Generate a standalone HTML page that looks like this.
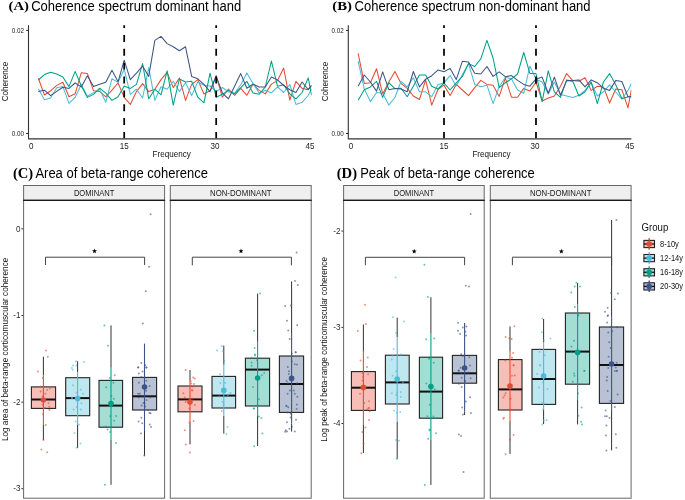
<!DOCTYPE html><html><head><meta charset="utf-8"><style>html,body{margin:0;padding:0;background:#fff;}svg{display:block;will-change:transform;}</style></head><body>
<svg width="685" height="500" viewBox="0 0 685 500">
<rect width="685" height="500" fill="#fff"/>
<text transform="translate(8.5,10.0) scale(1.1,1)" font-family="Liberation Serif, serif" font-weight="bold" font-size="13.4">(A)</text>
<text transform="translate(31.2,10.5) scale(1,1.06)" font-family="Liberation Sans, sans-serif" font-size="13">Coherence spectrum dominant hand</text>
<clipPath id="clipA"><rect x="28.5" y="25.2" width="283.1" height="113.39999999999999"/></clipPath>
<g clip-path="url(#clipA)" fill="none" stroke-width="1.05" stroke-linejoin="round">
<polyline stroke="#E64B35" points="38.33,78.2 44.47,95.0 50.60,90.8 56.73,85.4 62.87,82.2 69.00,96.8 75.13,93.8 81.26,72.8 87.40,73.4 93.53,90.8 99.66,91.4 105.80,96.8 111.93,90.2 118.06,83.0 124.20,97.4 130.33,104.4 136.46,91.6 142.59,83.6 148.73,91.6 154.86,89.2 160.99,79.6 167.13,72.4 173.26,87.6 179.39,78.0 185.52,100.4 191.66,84.4 197.79,79.6 203.92,94.0 210.06,90.8 216.19,75.6 222.32,97.2 228.46,89.0 234.59,95.3 240.72,88.3 246.86,95.3 252.99,84.1 259.12,90.4 265.25,93.9 271.39,84.1 277.52,80.6 283.65,68.0 289.79,100.2 295.92,81.3 302.05,88.3 308.19,89.7 311.60,86.2"/>
<polyline stroke="#4DBBD5" points="38.33,89.0 44.47,99.8 50.60,98.0 56.73,87.8 62.87,86.6 69.00,103.4 75.13,97.4 81.26,84.5 87.40,96.2 93.53,92.6 99.66,89.6 105.80,102.2 111.93,78.8 118.06,82.4 124.20,69.2 130.33,94.4 136.46,89.2 142.59,98.0 148.73,67.6 154.86,100.4 160.99,86.8 167.13,89.2 173.26,81.2 179.39,91.6 185.52,82.8 191.66,95.6 197.79,82.0 203.92,85.2 210.06,86.0 216.19,91.6 222.32,87.5 228.46,91.8 234.59,93.2 240.72,84.8 246.86,72.9 252.99,83.5 259.12,93.0 265.25,90.4 271.39,92.8 277.52,86.9 283.65,92.5 289.79,84.5 295.92,104.4 302.05,102.3 308.19,95.5 311.60,89.0"/>
<polyline stroke="#00A087" points="38.33,80.0 44.47,74.6 50.60,72.2 56.73,74.0 62.87,77.0 69.00,86.6 75.13,71.4 81.26,85.7 87.40,97.4 93.53,94.4 99.66,88.2 105.80,93.2 111.93,100.4 118.06,96.8 124.20,86.0 130.33,88.4 136.46,84.4 142.59,63.6 148.73,98.8 154.86,89.2 160.99,94.8 167.13,70.8 173.26,105.2 179.39,79.0 185.52,82.0 191.66,81.2 197.79,97.2 203.92,102.8 210.06,73.2 216.19,97.2 222.32,94.3 228.46,90.4 234.59,93.9 240.72,87.6 246.86,81.3 252.99,93.0 259.12,94.3 265.25,87.0 271.39,61.0 277.52,86.2 283.65,84.8 289.79,93.9 295.92,98.8 302.05,92.5 308.19,77.9 311.60,95.3"/>
<polyline stroke="#3C5488" points="38.33,91.4 44.47,90.2 50.60,95.6 56.73,91.4 62.87,87.2 69.00,88.4 75.13,83.0 81.26,86.9 87.40,75.8 93.53,86.6 99.66,84.2 105.80,82.2 111.93,70.2 118.06,81.8 124.20,60.2 130.33,79.6 136.46,73.2 142.59,66.0 148.73,76.4 154.86,40.4 160.99,36.4 167.13,43.6 173.26,46.8 179.39,50.8 185.52,46.8 191.66,76.4 197.79,78.8 203.92,84.4 210.06,91.6 216.19,76.4 222.32,92.8 228.46,98.8 234.59,86.2 240.72,73.6 246.86,88.3 252.99,84.1 259.12,86.9 265.25,87.0 271.39,77.0 277.52,79.9 283.65,85.5 289.79,89.7 295.92,92.5 302.05,82.0 308.19,89.5 311.60,85.0"/>
</g>
<line x1="124.20" y1="21.15" x2="124.20" y2="138.6" stroke="#000" stroke-width="1.75" stroke-dasharray="6.9 6.95" clip-path="url(#clipA)"/>
<line x1="216.19" y1="21.15" x2="216.19" y2="138.6" stroke="#000" stroke-width="1.75" stroke-dasharray="6.9 6.95" clip-path="url(#clipA)"/>
<path d="M28.5,25.2 V138.6" fill="none" stroke="#333" stroke-width="1.1"/>
<path d="M27.95,138.85 H311.6" fill="none" stroke="#333" stroke-width="1.1"/>
<line x1="26.2" y1="30.4" x2="28.5" y2="30.4" stroke="#222" stroke-width="1"/>
<text transform="translate(24.0,32.75) scale(1,1.12)" font-family="Liberation Sans, sans-serif" font-size="6.3" fill="#1a1a1a" text-anchor="end">0.02</text>
<line x1="26.2" y1="133.5" x2="28.5" y2="133.5" stroke="#222" stroke-width="1"/>
<text transform="translate(24.0,135.85) scale(1,1.12)" font-family="Liberation Sans, sans-serif" font-size="6.3" fill="#1a1a1a" text-anchor="end">0.00</text>
<text transform="translate(31.2,149) scale(1,1.14)" font-family="Liberation Sans, sans-serif" font-size="8.1" fill="#222" text-anchor="middle">0</text>
<text transform="translate(124.2,149) scale(1,1.14)" font-family="Liberation Sans, sans-serif" font-size="8.1" fill="#222" text-anchor="middle">15</text>
<text transform="translate(215.1,149) scale(1,1.14)" font-family="Liberation Sans, sans-serif" font-size="8.1" fill="#222" text-anchor="middle">30</text>
<text transform="translate(310.0,149) scale(1,1.14)" font-family="Liberation Sans, sans-serif" font-size="8.1" fill="#222" text-anchor="middle">45</text>
<text transform="translate(171.7,156.8) scale(1,1.1)" font-family="Liberation Sans, sans-serif" font-size="8.1" fill="#111" text-anchor="middle">Frequency</text>
<text transform="translate(8.3,81.5) rotate(-90) scale(1,1.1)" font-family="Liberation Sans, sans-serif" font-size="8.1" fill="#111" text-anchor="middle">Coherence</text>
<text transform="translate(332.3,10.0) scale(1.1,1)" font-family="Liberation Serif, serif" font-weight="bold" font-size="13.4">(B)</text>
<text transform="translate(354.6,10.5) scale(1,1.06)" font-family="Liberation Sans, sans-serif" font-size="13">Coherence spectrum non-dominant hand</text>
<clipPath id="clipB"><rect x="348.3" y="25.2" width="283.1000000000001" height="113.39999999999999"/></clipPath>
<g clip-path="url(#clipB)" fill="none" stroke-width="1.05" stroke-linejoin="round">
<polyline stroke="#E64B35" points="358.13,53.3 364.27,83.4 370.40,82.7 376.53,68.7 382.67,93.9 388.80,82.0 394.93,71.5 401.06,83.4 407.20,88.3 413.33,96.0 419.46,99.5 425.60,79.9 431.73,105.1 437.86,89.7 444.00,85.2 450.13,95.6 456.26,84.4 462.39,90.0 468.53,95.6 474.66,87.6 480.79,80.4 486.93,84.4 493.06,85.2 499.19,96.4 505.32,78.0 511.46,97.2 517.59,97.2 523.72,88.4 529.86,91.0 535.99,82.0 542.12,100.9 548.26,98.1 554.39,96.0 560.52,86.2 566.65,73.6 572.79,80.6 578.92,81.3 585.05,77.8 591.19,90.4 597.32,86.2 603.45,87.0 609.59,103.0 615.72,89.0 621.85,89.7 627.99,107.9 631.40,89.7"/>
<polyline stroke="#4DBBD5" points="358.13,61.0 364.27,89.0 370.40,101.6 376.53,92.5 382.67,93.2 388.80,105.1 394.93,97.5 401.06,81.3 407.20,86.9 413.33,77.8 419.46,91.8 425.60,91.8 431.73,96.7 437.86,84.8 444.00,82.8 450.13,75.6 456.26,86.0 462.39,74.8 468.53,63.6 474.66,84.4 480.79,86.8 486.93,85.2 493.06,103.6 499.19,86.8 505.32,77.2 511.46,78.8 517.59,90.0 523.72,93.2 529.86,66.0 535.99,79.2 542.12,82.0 548.26,93.9 554.39,82.0 560.52,94.6 566.65,96.0 572.79,97.4 578.92,95.3 585.05,90.4 591.19,82.7 597.32,96.0 603.45,91.8 609.59,84.8 615.72,92.0 621.85,99.0 627.99,90.4 631.40,83.4"/>
<polyline stroke="#00A087" points="358.13,100.2 364.27,89.7 370.40,86.9 376.53,81.3 382.67,97.4 388.80,82.7 394.93,88.6 401.06,88.3 407.20,96.7 413.33,86.2 419.46,75.0 425.60,75.0 431.73,86.2 437.86,89.0 444.00,83.1 450.13,90.0 456.26,82.8 462.39,76.4 468.53,63.6 474.66,66.5 480.79,58.8 486.93,40.4 493.06,58.0 499.19,87.6 505.32,82.8 511.46,78.8 517.59,74.0 523.72,52.4 529.86,73.4 535.99,73.6 542.12,101.6 548.26,70.8 554.39,91.8 560.52,97.4 566.65,79.9 572.79,81.3 578.92,96.0 585.05,91.8 591.19,82.0 597.32,103.7 603.45,82.0 609.59,73.6 615.72,84.8 621.85,98.8 627.99,96.7 631.40,96.7"/>
<polyline stroke="#3C5488" points="358.13,86.2 364.27,75.0 370.40,82.0 376.53,91.1 382.67,71.9 388.80,89.7 394.93,88.6 401.06,89.0 407.20,91.8 413.33,71.5 419.46,86.9 425.60,79.2 431.73,75.7 437.86,70.1 444.00,71.7 450.13,68.4 456.26,79.6 462.39,61.2 468.53,62.0 474.66,73.2 480.79,74.0 486.93,66.5 493.06,76.4 499.19,71.9 505.32,76.7 511.46,75.6 517.59,80.4 523.72,84.4 529.86,86.2 535.99,79.2 542.12,77.1 548.26,93.2 554.39,77.1 560.52,95.3 566.65,80.6 572.79,80.6 578.92,79.9 585.05,86.9 591.19,79.9 597.32,82.7 603.45,88.3 609.59,90.4 615.72,80.6 621.85,81.5 627.99,96.7 631.40,96.7"/>
</g>
<line x1="444.00" y1="21.15" x2="444.00" y2="138.6" stroke="#000" stroke-width="1.75" stroke-dasharray="6.9 6.95" clip-path="url(#clipB)"/>
<line x1="535.99" y1="21.15" x2="535.99" y2="138.6" stroke="#000" stroke-width="1.75" stroke-dasharray="6.9 6.95" clip-path="url(#clipB)"/>
<path d="M348.3,25.2 V138.6" fill="none" stroke="#333" stroke-width="1.1"/>
<path d="M347.75,138.85 H631.4000000000001" fill="none" stroke="#333" stroke-width="1.1"/>
<line x1="346.0" y1="30.4" x2="348.3" y2="30.4" stroke="#222" stroke-width="1"/>
<text transform="translate(343.8,32.75) scale(1,1.12)" font-family="Liberation Sans, sans-serif" font-size="6.3" fill="#1a1a1a" text-anchor="end">0.02</text>
<line x1="346.0" y1="133.5" x2="348.3" y2="133.5" stroke="#222" stroke-width="1"/>
<text transform="translate(343.8,135.85) scale(1,1.12)" font-family="Liberation Sans, sans-serif" font-size="6.3" fill="#1a1a1a" text-anchor="end">0.00</text>
<text transform="translate(351.0,149) scale(1,1.14)" font-family="Liberation Sans, sans-serif" font-size="8.1" fill="#222" text-anchor="middle">0</text>
<text transform="translate(444.0,149) scale(1,1.14)" font-family="Liberation Sans, sans-serif" font-size="8.1" fill="#222" text-anchor="middle">15</text>
<text transform="translate(534.9,149) scale(1,1.14)" font-family="Liberation Sans, sans-serif" font-size="8.1" fill="#222" text-anchor="middle">30</text>
<text transform="translate(629.8,149) scale(1,1.14)" font-family="Liberation Sans, sans-serif" font-size="8.1" fill="#222" text-anchor="middle">45</text>
<text transform="translate(491.5,156.8) scale(1,1.1)" font-family="Liberation Sans, sans-serif" font-size="8.1" fill="#111" text-anchor="middle">Frequency</text>
<text transform="translate(328.1,81.5) rotate(-90) scale(1,1.1)" font-family="Liberation Sans, sans-serif" font-size="8.1" fill="#111" text-anchor="middle">Coherence</text>
<text transform="translate(12.9,177.6) scale(1.07,1)" font-family="Liberation Serif, serif" font-weight="bold" font-size="13.7">(C)</text>
<text transform="translate(35.4,178.1) scale(1,1.06)" font-family="Liberation Sans, sans-serif" font-size="13">Area of beta-range coherence</text>
<line x1="21.400000000000002" y1="228.8" x2="23.6" y2="228.8" stroke="#333" stroke-width="1"/>
<text transform="translate(20.5,231.55) scale(1,1.12)" font-family="Liberation Sans, sans-serif" font-size="8.1" fill="#2a2a2a" text-anchor="end">0</text>
<line x1="21.400000000000002" y1="315.5" x2="23.6" y2="315.5" stroke="#333" stroke-width="1"/>
<text transform="translate(20.5,318.25) scale(1,1.12)" font-family="Liberation Sans, sans-serif" font-size="8.1" fill="#2a2a2a" text-anchor="end">-1</text>
<line x1="21.400000000000002" y1="402.2" x2="23.6" y2="402.2" stroke="#333" stroke-width="1"/>
<text transform="translate(20.5,404.95) scale(1,1.12)" font-family="Liberation Sans, sans-serif" font-size="8.1" fill="#2a2a2a" text-anchor="end">-2</text>
<line x1="21.400000000000002" y1="488.7" x2="23.6" y2="488.7" stroke="#333" stroke-width="1"/>
<text transform="translate(20.5,491.45) scale(1,1.12)" font-family="Liberation Sans, sans-serif" font-size="8.1" fill="#2a2a2a" text-anchor="end">-3</text>
<text transform="translate(7.5,349.4) rotate(-90)" font-family="Liberation Sans, sans-serif" font-size="8.2" fill="#111" text-anchor="middle">Log area of beta-range corticomuscular coherence</text>
<text transform="translate(336.7,177.6) scale(1.07,1)" font-family="Liberation Serif, serif" font-weight="bold" font-size="13.7">(D)</text>
<text transform="translate(360.2,178.1) scale(1,1.06)" font-family="Liberation Sans, sans-serif" font-size="13">Peak of beta-range coherence</text>
<line x1="341.40000000000003" y1="231.1" x2="343.6" y2="231.1" stroke="#333" stroke-width="1"/>
<text transform="translate(340.5,233.85) scale(1,1.12)" font-family="Liberation Sans, sans-serif" font-size="8.1" fill="#2a2a2a" text-anchor="end">-2</text>
<line x1="341.40000000000003" y1="327.4" x2="343.6" y2="327.4" stroke="#333" stroke-width="1"/>
<text transform="translate(340.5,330.15) scale(1,1.12)" font-family="Liberation Sans, sans-serif" font-size="8.1" fill="#2a2a2a" text-anchor="end">-3</text>
<line x1="341.40000000000003" y1="423.5" x2="343.6" y2="423.5" stroke="#333" stroke-width="1"/>
<text transform="translate(340.5,426.25) scale(1,1.12)" font-family="Liberation Sans, sans-serif" font-size="8.1" fill="#2a2a2a" text-anchor="end">-4</text>
<text transform="translate(327.3,349.4) rotate(-90)" font-family="Liberation Sans, sans-serif" font-size="8.2" fill="#111" text-anchor="middle">Log peak of beta-range corticomuscular coherence</text>
<rect x="23.6" y="185.5" width="141.0" height="14.800000000000011" fill="#efefef" stroke="#666" stroke-width="1"/>
<text transform="translate(94.1,195.7) scale(1,1.1)" font-family="Liberation Sans, sans-serif" font-size="7.6" fill="#1a1a1a" text-anchor="middle">DOMINANT</text>
<rect x="23.6" y="200.3" width="141.0" height="297.9" fill="#fff"/>
<line x1="43.4" y1="356.7" x2="43.4" y2="375.2" stroke="#333" stroke-width="1"/>
<line x1="43.4" y1="425" x2="43.4" y2="440" stroke="#333" stroke-width="1"/>
<rect x="31.4" y="386.9" width="24.2" height="21.5" fill="#f6beb6" stroke="#222" stroke-width="1.1"/>
<line x1="31.4" y1="399.5" x2="55.6" y2="399.5" stroke="#111" stroke-width="2"/>
<line x1="77.6" y1="361.3" x2="77.6" y2="372.2" stroke="#333" stroke-width="1"/>
<line x1="77.6" y1="425" x2="77.6" y2="448" stroke="#333" stroke-width="1"/>
<rect x="65.7" y="377.7" width="24.0" height="38.0" fill="#bfe7f0" stroke="#222" stroke-width="1.1"/>
<line x1="65.7" y1="398.1" x2="89.7" y2="398.1" stroke="#111" stroke-width="2"/>
<line x1="111" y1="325.4" x2="111" y2="367.6" stroke="#333" stroke-width="1"/>
<line x1="111" y1="440" x2="111" y2="484.8" stroke="#333" stroke-width="1"/>
<rect x="99" y="380.4" width="23.6" height="46.8" fill="#a3ddd4" stroke="#222" stroke-width="1.1"/>
<line x1="99" y1="405.6" x2="122.6" y2="405.6" stroke="#111" stroke-width="2"/>
<line x1="144.5" y1="431" x2="144.5" y2="455.6" stroke="#333" stroke-width="1"/>
<rect x="132.6" y="377.4" width="24.0" height="32.6" fill="#b9c1d4" stroke="#222" stroke-width="1.1"/>
<line x1="132.6" y1="396.3" x2="156.6" y2="396.3" stroke="#111" stroke-width="2"/>
<circle cx="46" cy="350.4" r="1.0" fill="#E64B35" fill-opacity="0.6"/>
<circle cx="47.8" cy="356.8" r="1.0" fill="#E64B35" fill-opacity="0.6"/>
<circle cx="38" cy="371.5" r="1.0" fill="#E64B35" fill-opacity="0.6"/>
<circle cx="43" cy="378.1" r="1.0" fill="#E64B35" fill-opacity="0.6"/>
<circle cx="40.6" cy="386.5" r="1.0" fill="#E64B35" fill-opacity="0.6"/>
<circle cx="50" cy="388.6" r="1.0" fill="#E64B35" fill-opacity="0.6"/>
<circle cx="47.2" cy="390.1" r="1.0" fill="#E64B35" fill-opacity="0.6"/>
<circle cx="40.6" cy="391.6" r="1.0" fill="#E64B35" fill-opacity="0.6"/>
<circle cx="45.4" cy="393.7" r="1.0" fill="#E64B35" fill-opacity="0.6"/>
<circle cx="42.4" cy="396.4" r="1.0" fill="#E64B35" fill-opacity="0.6"/>
<circle cx="48.6" cy="403.2" r="1.0" fill="#E64B35" fill-opacity="0.6"/>
<circle cx="49.3" cy="406.8" r="1.0" fill="#E64B35" fill-opacity="0.6"/>
<circle cx="49.3" cy="410" r="1.0" fill="#E64B35" fill-opacity="0.6"/>
<circle cx="43" cy="414.2" r="1.0" fill="#E64B35" fill-opacity="0.6"/>
<circle cx="45.6" cy="425" r="1.0" fill="#E64B35" fill-opacity="0.6"/>
<circle cx="43.4" cy="440" r="1.0" fill="#E64B35" fill-opacity="0.6"/>
<circle cx="41.4" cy="449.6" r="1.0" fill="#E64B35" fill-opacity="0.6"/>
<circle cx="47.2" cy="452.3" r="1.0" fill="#E64B35" fill-opacity="0.6"/>
<circle cx="42.6" cy="404.8" r="1.0" fill="#E64B35" fill-opacity="0.6"/>
<circle cx="44.8" cy="408" r="1.0" fill="#E64B35" fill-opacity="0.6"/>
<circle cx="76" cy="361.3" r="1.0" fill="#4DBBD5" fill-opacity="0.6"/>
<circle cx="83.8" cy="362" r="1.0" fill="#4DBBD5" fill-opacity="0.6"/>
<circle cx="73" cy="365.5" r="1.0" fill="#4DBBD5" fill-opacity="0.6"/>
<circle cx="76.3" cy="365.5" r="1.0" fill="#4DBBD5" fill-opacity="0.6"/>
<circle cx="71.8" cy="368" r="1.0" fill="#4DBBD5" fill-opacity="0.6"/>
<circle cx="72.6" cy="369.7" r="1.0" fill="#4DBBD5" fill-opacity="0.6"/>
<circle cx="73" cy="385.2" r="1.0" fill="#4DBBD5" fill-opacity="0.6"/>
<circle cx="80.8" cy="389.8" r="1.0" fill="#4DBBD5" fill-opacity="0.6"/>
<circle cx="76.6" cy="392.8" r="1.0" fill="#4DBBD5" fill-opacity="0.6"/>
<circle cx="83" cy="393.7" r="1.0" fill="#4DBBD5" fill-opacity="0.6"/>
<circle cx="71.8" cy="397.8" r="1.0" fill="#4DBBD5" fill-opacity="0.6"/>
<circle cx="81.4" cy="403.2" r="1.0" fill="#4DBBD5" fill-opacity="0.6"/>
<circle cx="76.6" cy="407" r="1.0" fill="#4DBBD5" fill-opacity="0.6"/>
<circle cx="73.6" cy="409.6" r="1.0" fill="#4DBBD5" fill-opacity="0.6"/>
<circle cx="80.8" cy="409.6" r="1.0" fill="#4DBBD5" fill-opacity="0.6"/>
<circle cx="75.7" cy="421.6" r="1.0" fill="#4DBBD5" fill-opacity="0.6"/>
<circle cx="79" cy="424.4" r="1.0" fill="#4DBBD5" fill-opacity="0.6"/>
<circle cx="74.5" cy="433.1" r="1.0" fill="#4DBBD5" fill-opacity="0.6"/>
<circle cx="80.5" cy="443.6" r="1.0" fill="#4DBBD5" fill-opacity="0.6"/>
<circle cx="76.6" cy="447.8" r="1.0" fill="#4DBBD5" fill-opacity="0.6"/>
<circle cx="72.1" cy="398" r="1.0" fill="#4DBBD5" fill-opacity="0.6"/>
<circle cx="104.4" cy="325.4" r="1.0" fill="#00A087" fill-opacity="0.6"/>
<circle cx="108" cy="345.7" r="1.0" fill="#00A087" fill-opacity="0.6"/>
<circle cx="114.6" cy="375.2" r="1.0" fill="#00A087" fill-opacity="0.6"/>
<circle cx="109.8" cy="377.9" r="1.0" fill="#00A087" fill-opacity="0.6"/>
<circle cx="113.4" cy="382.8" r="1.0" fill="#00A087" fill-opacity="0.6"/>
<circle cx="106.2" cy="387.2" r="1.0" fill="#00A087" fill-opacity="0.6"/>
<circle cx="111.4" cy="396" r="1.0" fill="#00A087" fill-opacity="0.6"/>
<circle cx="113.8" cy="398.8" r="1.0" fill="#00A087" fill-opacity="0.6"/>
<circle cx="110.2" cy="416.3" r="1.0" fill="#00A087" fill-opacity="0.6"/>
<circle cx="116.1" cy="416" r="1.0" fill="#00A087" fill-opacity="0.6"/>
<circle cx="114.2" cy="420.8" r="1.0" fill="#00A087" fill-opacity="0.6"/>
<circle cx="106" cy="426.4" r="1.0" fill="#00A087" fill-opacity="0.6"/>
<circle cx="107.6" cy="429.6" r="1.0" fill="#00A087" fill-opacity="0.6"/>
<circle cx="110" cy="432" r="1.0" fill="#00A087" fill-opacity="0.6"/>
<circle cx="116" cy="443" r="1.0" fill="#00A087" fill-opacity="0.6"/>
<circle cx="104.9" cy="484.8" r="1.0" fill="#00A087" fill-opacity="0.6"/>
<circle cx="150.6" cy="214.2" r="1.0" fill="#3C5488" fill-opacity="0.6"/>
<circle cx="149.1" cy="266.8" r="1.0" fill="#3C5488" fill-opacity="0.6"/>
<circle cx="145.8" cy="291.3" r="1.0" fill="#3C5488" fill-opacity="0.6"/>
<circle cx="142.8" cy="323.4" r="1.0" fill="#3C5488" fill-opacity="0.6"/>
<circle cx="141.3" cy="363.1" r="1.0" fill="#3C5488" fill-opacity="0.6"/>
<circle cx="138.2" cy="367.6" r="1.0" fill="#3C5488" fill-opacity="0.6"/>
<circle cx="145.2" cy="365.2" r="1.0" fill="#3C5488" fill-opacity="0.6"/>
<circle cx="146.4" cy="367.6" r="1.0" fill="#3C5488" fill-opacity="0.6"/>
<circle cx="138.2" cy="367.2" r="1.0" fill="#3C5488" fill-opacity="0.6"/>
<circle cx="146.4" cy="367.4" r="1.0" fill="#3C5488" fill-opacity="0.6"/>
<circle cx="142.5" cy="371.6" r="1.0" fill="#3C5488" fill-opacity="0.6"/>
<circle cx="138.9" cy="373.4" r="1.0" fill="#3C5488" fill-opacity="0.6"/>
<circle cx="141.3" cy="377" r="1.0" fill="#3C5488" fill-opacity="0.6"/>
<circle cx="146.4" cy="380.8" r="1.0" fill="#3C5488" fill-opacity="0.6"/>
<circle cx="138.9" cy="382.8" r="1.0" fill="#3C5488" fill-opacity="0.6"/>
<circle cx="149.7" cy="386" r="1.0" fill="#3C5488" fill-opacity="0.6"/>
<circle cx="146.1" cy="390.8" r="1.0" fill="#3C5488" fill-opacity="0.6"/>
<circle cx="138.2" cy="393.8" r="1.0" fill="#3C5488" fill-opacity="0.6"/>
<circle cx="139.8" cy="393.8" r="1.0" fill="#3C5488" fill-opacity="0.6"/>
<circle cx="138.9" cy="397.6" r="1.0" fill="#3C5488" fill-opacity="0.6"/>
<circle cx="142.2" cy="397.1" r="1.0" fill="#3C5488" fill-opacity="0.6"/>
<circle cx="150.2" cy="397.6" r="1.0" fill="#3C5488" fill-opacity="0.6"/>
<circle cx="146.6" cy="400" r="1.0" fill="#3C5488" fill-opacity="0.6"/>
<circle cx="143.4" cy="403.1" r="1.0" fill="#3C5488" fill-opacity="0.6"/>
<circle cx="144.6" cy="403.1" r="1.0" fill="#3C5488" fill-opacity="0.6"/>
<circle cx="141.6" cy="405.5" r="1.0" fill="#3C5488" fill-opacity="0.6"/>
<circle cx="145.2" cy="406.4" r="1.0" fill="#3C5488" fill-opacity="0.6"/>
<circle cx="148.2" cy="410.3" r="1.0" fill="#3C5488" fill-opacity="0.6"/>
<circle cx="149.4" cy="413" r="1.0" fill="#3C5488" fill-opacity="0.6"/>
<circle cx="150.6" cy="413.2" r="1.0" fill="#3C5488" fill-opacity="0.6"/>
<circle cx="141.3" cy="417.8" r="1.0" fill="#3C5488" fill-opacity="0.6"/>
<circle cx="138.6" cy="421.4" r="1.0" fill="#3C5488" fill-opacity="0.6"/>
<circle cx="142.2" cy="423.2" r="1.0" fill="#3C5488" fill-opacity="0.6"/>
<circle cx="149.7" cy="424.4" r="1.0" fill="#3C5488" fill-opacity="0.6"/>
<circle cx="151" cy="427" r="1.0" fill="#3C5488" fill-opacity="0.6"/>
<circle cx="141" cy="433.6" r="1.0" fill="#3C5488" fill-opacity="0.6"/>
<circle cx="144.3" cy="455.5" r="1.0" fill="#3C5488" fill-opacity="0.6"/>
<line x1="43.4" y1="375.2" x2="43.4" y2="425" stroke="#E64B35" stroke-width="1.1"/>
<circle cx="43.4" cy="400" r="2.8" fill="#E64B35"/>
<line x1="77.6" y1="372.2" x2="77.6" y2="425" stroke="#4DBBD5" stroke-width="1.1"/>
<circle cx="77.6" cy="398.6" r="2.8" fill="#4DBBD5"/>
<line x1="111" y1="367.6" x2="111" y2="440" stroke="#00A087" stroke-width="1.1"/>
<circle cx="111" cy="403.6" r="2.8" fill="#00A087"/>
<line x1="144.5" y1="343.6" x2="144.5" y2="431" stroke="#3C5488" stroke-width="1.1"/>
<circle cx="144.5" cy="387" r="2.8" fill="#3C5488"/>
<path d="M45.5,265.0 V257.2 H144.6 V265.0" fill="none" stroke="#444" stroke-width="1"/>
<polygon points="94.50,248.50 95.15,250.21 96.97,250.30 95.55,251.44 96.03,253.20 94.50,252.20 92.97,253.20 93.45,251.44 92.03,250.30 93.85,250.21" fill="#000"/>
<rect x="23.6" y="200.3" width="141.0" height="297.9" fill="none" stroke="#666" stroke-width="1"/>
<line x1="23.1" y1="200.3" x2="165.1" y2="200.3" stroke="#1a1a1a" stroke-width="1.2"/>
<rect x="170.3" y="185.5" width="140.89999999999998" height="14.800000000000011" fill="#efefef" stroke="#666" stroke-width="1"/>
<text transform="translate(240.8,195.7) scale(1,1.1)" font-family="Liberation Sans, sans-serif" font-size="7.6" fill="#1a1a1a" text-anchor="middle" textLength="61.6" lengthAdjust="spacingAndGlyphs">NON-DOMINANT</text>
<rect x="170.3" y="200.3" width="140.89999999999998" height="297.9" fill="#fff"/>
<line x1="190" y1="370" x2="190" y2="380" stroke="#333" stroke-width="1"/>
<line x1="190" y1="423" x2="190" y2="444.4" stroke="#333" stroke-width="1"/>
<rect x="178" y="386" width="24.0" height="25.8" fill="#f6beb6" stroke="#222" stroke-width="1.1"/>
<line x1="178" y1="399.4" x2="202" y2="399.4" stroke="#111" stroke-width="2"/>
<line x1="223.8" y1="345.6" x2="223.8" y2="364.8" stroke="#333" stroke-width="1"/>
<line x1="223.8" y1="416" x2="223.8" y2="433.6" stroke="#333" stroke-width="1"/>
<rect x="212" y="376.4" width="23.6" height="31.6" fill="#bfe7f0" stroke="#222" stroke-width="1.1"/>
<line x1="212" y1="395.6" x2="235.6" y2="395.6" stroke="#111" stroke-width="2"/>
<line x1="257.6" y1="293.6" x2="257.6" y2="341" stroke="#333" stroke-width="1"/>
<line x1="257.6" y1="416" x2="257.6" y2="446" stroke="#333" stroke-width="1"/>
<rect x="245.4" y="358.2" width="24.2" height="47.8" fill="#a3ddd4" stroke="#222" stroke-width="1.1"/>
<line x1="245.4" y1="369.6" x2="269.6" y2="369.6" stroke="#111" stroke-width="2"/>
<line x1="291.6" y1="281.4" x2="291.6" y2="333" stroke="#333" stroke-width="1"/>
<line x1="291.6" y1="423.6" x2="291.6" y2="431.6" stroke="#333" stroke-width="1"/>
<rect x="279.4" y="356" width="24.2" height="56.4" fill="#b9c1d4" stroke="#222" stroke-width="1.1"/>
<line x1="279.4" y1="384" x2="303.6" y2="384" stroke="#111" stroke-width="2"/>
<circle cx="185.6" cy="370" r="1.0" fill="#E64B35" fill-opacity="0.6"/>
<circle cx="193.2" cy="377.6" r="1.0" fill="#E64B35" fill-opacity="0.6"/>
<circle cx="194.8" cy="378.4" r="1.0" fill="#E64B35" fill-opacity="0.6"/>
<circle cx="190.6" cy="381.2" r="1.0" fill="#E64B35" fill-opacity="0.6"/>
<circle cx="191.2" cy="383.6" r="1.0" fill="#E64B35" fill-opacity="0.6"/>
<circle cx="194" cy="384" r="1.0" fill="#E64B35" fill-opacity="0.6"/>
<circle cx="192.4" cy="386.8" r="1.0" fill="#E64B35" fill-opacity="0.6"/>
<circle cx="192" cy="390" r="1.0" fill="#E64B35" fill-opacity="0.6"/>
<circle cx="183.4" cy="393.2" r="1.0" fill="#E64B35" fill-opacity="0.6"/>
<circle cx="192.4" cy="390.6" r="1.0" fill="#E64B35" fill-opacity="0.6"/>
<circle cx="184.6" cy="397.4" r="1.0" fill="#E64B35" fill-opacity="0.6"/>
<circle cx="192.8" cy="398.6" r="1.0" fill="#E64B35" fill-opacity="0.6"/>
<circle cx="185.6" cy="402" r="1.0" fill="#E64B35" fill-opacity="0.6"/>
<circle cx="194.8" cy="405" r="1.0" fill="#E64B35" fill-opacity="0.6"/>
<circle cx="189.4" cy="408.6" r="1.0" fill="#E64B35" fill-opacity="0.6"/>
<circle cx="193.6" cy="421" r="1.0" fill="#E64B35" fill-opacity="0.6"/>
<circle cx="189.4" cy="422.6" r="1.0" fill="#E64B35" fill-opacity="0.6"/>
<circle cx="184.8" cy="430.2" r="1.0" fill="#E64B35" fill-opacity="0.6"/>
<circle cx="185.8" cy="444.6" r="1.0" fill="#E64B35" fill-opacity="0.6"/>
<circle cx="190" cy="452.4" r="1.0" fill="#E64B35" fill-opacity="0.6"/>
<circle cx="221.8" cy="346" r="1.0" fill="#4DBBD5" fill-opacity="0.6"/>
<circle cx="217" cy="350.4" r="1.0" fill="#4DBBD5" fill-opacity="0.6"/>
<circle cx="222.7" cy="351.2" r="1.0" fill="#4DBBD5" fill-opacity="0.6"/>
<circle cx="224.4" cy="360.8" r="1.0" fill="#4DBBD5" fill-opacity="0.6"/>
<circle cx="223.9" cy="363.2" r="1.0" fill="#4DBBD5" fill-opacity="0.6"/>
<circle cx="220" cy="374.3" r="1.0" fill="#4DBBD5" fill-opacity="0.6"/>
<circle cx="220.3" cy="383" r="1.0" fill="#4DBBD5" fill-opacity="0.6"/>
<circle cx="225.1" cy="383" r="1.0" fill="#4DBBD5" fill-opacity="0.6"/>
<circle cx="219.4" cy="396.6" r="1.0" fill="#4DBBD5" fill-opacity="0.6"/>
<circle cx="230.4" cy="393" r="1.0" fill="#4DBBD5" fill-opacity="0.6"/>
<circle cx="227.8" cy="395.4" r="1.0" fill="#4DBBD5" fill-opacity="0.6"/>
<circle cx="222.4" cy="402" r="1.0" fill="#4DBBD5" fill-opacity="0.6"/>
<circle cx="223.6" cy="405" r="1.0" fill="#4DBBD5" fill-opacity="0.6"/>
<circle cx="221.8" cy="411" r="1.0" fill="#4DBBD5" fill-opacity="0.6"/>
<circle cx="227.5" cy="427" r="1.0" fill="#4DBBD5" fill-opacity="0.6"/>
<circle cx="226.3" cy="434.1" r="1.0" fill="#4DBBD5" fill-opacity="0.6"/>
<circle cx="260" cy="293.4" r="1.0" fill="#00A087" fill-opacity="0.6"/>
<circle cx="254" cy="330.7" r="1.0" fill="#00A087" fill-opacity="0.6"/>
<circle cx="254.6" cy="348" r="1.0" fill="#00A087" fill-opacity="0.6"/>
<circle cx="255" cy="354.4" r="1.0" fill="#00A087" fill-opacity="0.6"/>
<circle cx="255" cy="355.4" r="1.0" fill="#00A087" fill-opacity="0.6"/>
<circle cx="251.6" cy="357.8" r="1.0" fill="#00A087" fill-opacity="0.6"/>
<circle cx="257" cy="360.2" r="1.0" fill="#00A087" fill-opacity="0.6"/>
<circle cx="251.6" cy="362.6" r="1.0" fill="#00A087" fill-opacity="0.6"/>
<circle cx="251.6" cy="365.8" r="1.0" fill="#00A087" fill-opacity="0.6"/>
<circle cx="264.2" cy="373" r="1.0" fill="#00A087" fill-opacity="0.6"/>
<circle cx="261.8" cy="375.2" r="1.0" fill="#00A087" fill-opacity="0.6"/>
<circle cx="253" cy="387" r="1.0" fill="#00A087" fill-opacity="0.6"/>
<circle cx="258.8" cy="399.2" r="1.0" fill="#00A087" fill-opacity="0.6"/>
<circle cx="257.6" cy="405.2" r="1.0" fill="#00A087" fill-opacity="0.6"/>
<circle cx="254" cy="408.5" r="1.0" fill="#00A087" fill-opacity="0.6"/>
<circle cx="253.8" cy="408.4" r="1.0" fill="#00A087" fill-opacity="0.6"/>
<circle cx="258.8" cy="416.6" r="1.0" fill="#00A087" fill-opacity="0.6"/>
<circle cx="261.4" cy="418" r="1.0" fill="#00A087" fill-opacity="0.6"/>
<circle cx="262.4" cy="433.6" r="1.0" fill="#00A087" fill-opacity="0.6"/>
<circle cx="254.2" cy="446.2" r="1.0" fill="#00A087" fill-opacity="0.6"/>
<circle cx="296.6" cy="252.4" r="1.0" fill="#3C5488" fill-opacity="0.6"/>
<circle cx="295" cy="281.1" r="1.0" fill="#3C5488" fill-opacity="0.6"/>
<circle cx="297.8" cy="285" r="1.0" fill="#3C5488" fill-opacity="0.6"/>
<circle cx="285.2" cy="306" r="1.0" fill="#3C5488" fill-opacity="0.6"/>
<circle cx="291" cy="305.6" r="1.0" fill="#3C5488" fill-opacity="0.6"/>
<circle cx="287" cy="320.8" r="1.0" fill="#3C5488" fill-opacity="0.6"/>
<circle cx="297.2" cy="325.2" r="1.0" fill="#3C5488" fill-opacity="0.6"/>
<circle cx="288.2" cy="330.4" r="1.0" fill="#3C5488" fill-opacity="0.6"/>
<circle cx="289.7" cy="339.1" r="1.0" fill="#3C5488" fill-opacity="0.6"/>
<circle cx="295.7" cy="352.3" r="1.0" fill="#3C5488" fill-opacity="0.6"/>
<circle cx="291.8" cy="353.5" r="1.0" fill="#3C5488" fill-opacity="0.6"/>
<circle cx="295.7" cy="352.2" r="1.0" fill="#3C5488" fill-opacity="0.6"/>
<circle cx="291.8" cy="361.4" r="1.0" fill="#3C5488" fill-opacity="0.6"/>
<circle cx="294.8" cy="364.2" r="1.0" fill="#3C5488" fill-opacity="0.6"/>
<circle cx="297" cy="364.6" r="1.0" fill="#3C5488" fill-opacity="0.6"/>
<circle cx="287.8" cy="367" r="1.0" fill="#3C5488" fill-opacity="0.6"/>
<circle cx="289" cy="371.3" r="1.0" fill="#3C5488" fill-opacity="0.6"/>
<circle cx="288.8" cy="374" r="1.0" fill="#3C5488" fill-opacity="0.6"/>
<circle cx="286.6" cy="381" r="1.0" fill="#3C5488" fill-opacity="0.6"/>
<circle cx="287.8" cy="383.3" r="1.0" fill="#3C5488" fill-opacity="0.6"/>
<circle cx="297" cy="383.3" r="1.0" fill="#3C5488" fill-opacity="0.6"/>
<circle cx="290" cy="390.5" r="1.0" fill="#3C5488" fill-opacity="0.6"/>
<circle cx="293.8" cy="390.5" r="1.0" fill="#3C5488" fill-opacity="0.6"/>
<circle cx="287.6" cy="393.8" r="1.0" fill="#3C5488" fill-opacity="0.6"/>
<circle cx="294.8" cy="393.8" r="1.0" fill="#3C5488" fill-opacity="0.6"/>
<circle cx="297.4" cy="396.8" r="1.0" fill="#3C5488" fill-opacity="0.6"/>
<circle cx="296.9" cy="404.6" r="1.0" fill="#3C5488" fill-opacity="0.6"/>
<circle cx="286.4" cy="406.1" r="1.0" fill="#3C5488" fill-opacity="0.6"/>
<circle cx="288.2" cy="407.3" r="1.0" fill="#3C5488" fill-opacity="0.6"/>
<circle cx="286.4" cy="405.8" r="1.0" fill="#3C5488" fill-opacity="0.6"/>
<circle cx="296.6" cy="409" r="1.0" fill="#3C5488" fill-opacity="0.6"/>
<circle cx="287.6" cy="412.6" r="1.0" fill="#3C5488" fill-opacity="0.6"/>
<circle cx="290.6" cy="413.8" r="1.0" fill="#3C5488" fill-opacity="0.6"/>
<circle cx="290.6" cy="417.4" r="1.0" fill="#3C5488" fill-opacity="0.6"/>
<circle cx="296" cy="419.8" r="1.0" fill="#3C5488" fill-opacity="0.6"/>
<circle cx="287" cy="422.2" r="1.0" fill="#3C5488" fill-opacity="0.6"/>
<circle cx="291.8" cy="426.4" r="1.0" fill="#3C5488" fill-opacity="0.6"/>
<circle cx="289.4" cy="428.8" r="1.0" fill="#3C5488" fill-opacity="0.6"/>
<circle cx="285.8" cy="430.2" r="1.0" fill="#3C5488" fill-opacity="0.6"/>
<circle cx="287" cy="431.4" r="1.0" fill="#3C5488" fill-opacity="0.6"/>
<circle cx="285.2" cy="431.8" r="1.0" fill="#3C5488" fill-opacity="0.6"/>
<circle cx="294.8" cy="431.4" r="1.0" fill="#3C5488" fill-opacity="0.6"/>
<line x1="190" y1="380" x2="190" y2="423" stroke="#E64B35" stroke-width="1.1"/>
<circle cx="190" cy="402" r="2.8" fill="#E64B35"/>
<line x1="223.8" y1="364.8" x2="223.8" y2="416" stroke="#4DBBD5" stroke-width="1.1"/>
<circle cx="223.8" cy="390.4" r="2.8" fill="#4DBBD5"/>
<line x1="257.6" y1="341" x2="257.6" y2="416" stroke="#00A087" stroke-width="1.1"/>
<circle cx="257.6" cy="378" r="2.8" fill="#00A087"/>
<line x1="291.6" y1="333" x2="291.6" y2="423.6" stroke="#3C5488" stroke-width="1.1"/>
<circle cx="291.6" cy="378.4" r="2.8" fill="#3C5488"/>
<path d="M192.3,265.4 V257.2 H291.4 V265.4" fill="none" stroke="#444" stroke-width="1"/>
<polygon points="241.00,248.60 241.65,250.31 243.47,250.40 242.05,251.54 242.53,253.30 241.00,252.30 239.47,253.30 239.95,251.54 238.53,250.40 240.35,250.31" fill="#000"/>
<rect x="170.3" y="200.3" width="140.89999999999998" height="297.9" fill="none" stroke="#666" stroke-width="1"/>
<line x1="169.8" y1="200.3" x2="311.7" y2="200.3" stroke="#1a1a1a" stroke-width="1.2"/>
<rect x="343.6" y="185.5" width="140.59999999999997" height="14.800000000000011" fill="#efefef" stroke="#666" stroke-width="1"/>
<text transform="translate(413.9,195.7) scale(1,1.1)" font-family="Liberation Sans, sans-serif" font-size="7.6" fill="#1a1a1a" text-anchor="middle">DOMINANT</text>
<rect x="343.6" y="200.3" width="140.59999999999997" height="297.9" fill="#fff"/>
<line x1="363.4" y1="324.4" x2="363.4" y2="351" stroke="#333" stroke-width="1"/>
<line x1="363.4" y1="424.4" x2="363.4" y2="453" stroke="#333" stroke-width="1"/>
<rect x="351.4" y="371.6" width="24.0" height="38.8" fill="#f6beb6" stroke="#222" stroke-width="1.1"/>
<line x1="351.4" y1="387.7" x2="375.4" y2="387.7" stroke="#111" stroke-width="2"/>
<line x1="397.2" y1="317.6" x2="397.2" y2="337" stroke="#333" stroke-width="1"/>
<line x1="397.2" y1="422" x2="397.2" y2="459" stroke="#333" stroke-width="1"/>
<rect x="385.4" y="355.2" width="23.8" height="48.8" fill="#bfe7f0" stroke="#222" stroke-width="1.1"/>
<line x1="385.4" y1="382.4" x2="409.2" y2="382.4" stroke="#111" stroke-width="2"/>
<line x1="430.9" y1="297.2" x2="430.9" y2="333.6" stroke="#333" stroke-width="1"/>
<line x1="430.9" y1="439.4" x2="430.9" y2="484.9" stroke="#333" stroke-width="1"/>
<rect x="419.4" y="357.2" width="23.2" height="61.0" fill="#a3ddd4" stroke="#222" stroke-width="1.1"/>
<line x1="419.4" y1="391.6" x2="442.6" y2="391.6" stroke="#111" stroke-width="2"/>
<line x1="464.6" y1="323" x2="464.6" y2="324" stroke="#333" stroke-width="1"/>
<line x1="464.6" y1="411.5" x2="464.6" y2="415" stroke="#333" stroke-width="1"/>
<rect x="452.4" y="355.4" width="24.2" height="27.8" fill="#b9c1d4" stroke="#222" stroke-width="1.1"/>
<line x1="452.4" y1="373.3" x2="476.6" y2="373.3" stroke="#111" stroke-width="2"/>
<circle cx="365" cy="304.8" r="1.0" fill="#E64B35" fill-opacity="0.6"/>
<circle cx="366" cy="324" r="1.0" fill="#E64B35" fill-opacity="0.6"/>
<circle cx="357.8" cy="331" r="1.0" fill="#E64B35" fill-opacity="0.6"/>
<circle cx="360.6" cy="360.6" r="1.0" fill="#E64B35" fill-opacity="0.6"/>
<circle cx="367.8" cy="357.4" r="1.0" fill="#E64B35" fill-opacity="0.6"/>
<circle cx="367" cy="367" r="1.0" fill="#E64B35" fill-opacity="0.6"/>
<circle cx="368.1" cy="374.2" r="1.0" fill="#E64B35" fill-opacity="0.6"/>
<circle cx="362.6" cy="373.4" r="1.0" fill="#E64B35" fill-opacity="0.6"/>
<circle cx="363" cy="377" r="1.0" fill="#E64B35" fill-opacity="0.6"/>
<circle cx="362.4" cy="380.6" r="1.0" fill="#E64B35" fill-opacity="0.6"/>
<circle cx="360" cy="393.8" r="1.0" fill="#E64B35" fill-opacity="0.6"/>
<circle cx="364.2" cy="403" r="1.0" fill="#E64B35" fill-opacity="0.6"/>
<circle cx="369" cy="401.3" r="1.0" fill="#E64B35" fill-opacity="0.6"/>
<circle cx="368.4" cy="408.2" r="1.0" fill="#E64B35" fill-opacity="0.6"/>
<circle cx="367" cy="409.4" r="1.0" fill="#E64B35" fill-opacity="0.6"/>
<circle cx="369" cy="408" r="1.0" fill="#E64B35" fill-opacity="0.6"/>
<circle cx="369.8" cy="411.2" r="1.0" fill="#E64B35" fill-opacity="0.6"/>
<circle cx="369" cy="420" r="1.0" fill="#E64B35" fill-opacity="0.6"/>
<circle cx="365.4" cy="427.5" r="1.0" fill="#E64B35" fill-opacity="0.6"/>
<circle cx="362.4" cy="432" r="1.0" fill="#E64B35" fill-opacity="0.6"/>
<circle cx="363.6" cy="443.4" r="1.0" fill="#E64B35" fill-opacity="0.6"/>
<circle cx="361.4" cy="453.2" r="1.0" fill="#E64B35" fill-opacity="0.6"/>
<circle cx="395.7" cy="277.5" r="1.0" fill="#4DBBD5" fill-opacity="0.6"/>
<circle cx="393" cy="317.2" r="1.0" fill="#4DBBD5" fill-opacity="0.6"/>
<circle cx="403.8" cy="321.6" r="1.0" fill="#4DBBD5" fill-opacity="0.6"/>
<circle cx="396" cy="333.1" r="1.0" fill="#4DBBD5" fill-opacity="0.6"/>
<circle cx="393.6" cy="349" r="1.0" fill="#4DBBD5" fill-opacity="0.6"/>
<circle cx="400.8" cy="354.4" r="1.0" fill="#4DBBD5" fill-opacity="0.6"/>
<circle cx="392.6" cy="355.8" r="1.0" fill="#4DBBD5" fill-opacity="0.6"/>
<circle cx="391.8" cy="359.4" r="1.0" fill="#4DBBD5" fill-opacity="0.6"/>
<circle cx="396.2" cy="371.3" r="1.0" fill="#4DBBD5" fill-opacity="0.6"/>
<circle cx="392.6" cy="375.8" r="1.0" fill="#4DBBD5" fill-opacity="0.6"/>
<circle cx="402.9" cy="382.4" r="1.0" fill="#4DBBD5" fill-opacity="0.6"/>
<circle cx="391.8" cy="393.2" r="1.0" fill="#4DBBD5" fill-opacity="0.6"/>
<circle cx="397" cy="392.6" r="1.0" fill="#4DBBD5" fill-opacity="0.6"/>
<circle cx="400.8" cy="392" r="1.0" fill="#4DBBD5" fill-opacity="0.6"/>
<circle cx="396.2" cy="395" r="1.0" fill="#4DBBD5" fill-opacity="0.6"/>
<circle cx="400.8" cy="397" r="1.0" fill="#4DBBD5" fill-opacity="0.6"/>
<circle cx="394.2" cy="410.8" r="1.0" fill="#4DBBD5" fill-opacity="0.6"/>
<circle cx="397" cy="412.8" r="1.0" fill="#4DBBD5" fill-opacity="0.6"/>
<circle cx="400.2" cy="412" r="1.0" fill="#4DBBD5" fill-opacity="0.6"/>
<circle cx="396" cy="440" r="1.0" fill="#4DBBD5" fill-opacity="0.6"/>
<circle cx="399" cy="440.7" r="1.0" fill="#4DBBD5" fill-opacity="0.6"/>
<circle cx="396.6" cy="459" r="1.0" fill="#4DBBD5" fill-opacity="0.6"/>
<circle cx="424.4" cy="264.8" r="1.0" fill="#00A087" fill-opacity="0.6"/>
<circle cx="427.8" cy="297" r="1.0" fill="#00A087" fill-opacity="0.6"/>
<circle cx="426.2" cy="339.2" r="1.0" fill="#00A087" fill-opacity="0.6"/>
<circle cx="434.2" cy="338.4" r="1.0" fill="#00A087" fill-opacity="0.6"/>
<circle cx="429" cy="358.8" r="1.0" fill="#00A087" fill-opacity="0.6"/>
<circle cx="433.8" cy="362.7" r="1.0" fill="#00A087" fill-opacity="0.6"/>
<circle cx="426.2" cy="383.4" r="1.0" fill="#00A087" fill-opacity="0.6"/>
<circle cx="434.6" cy="389.2" r="1.0" fill="#00A087" fill-opacity="0.6"/>
<circle cx="429.8" cy="404.8" r="1.0" fill="#00A087" fill-opacity="0.6"/>
<circle cx="427.4" cy="416.2" r="1.0" fill="#00A087" fill-opacity="0.6"/>
<circle cx="433.4" cy="416.5" r="1.0" fill="#00A087" fill-opacity="0.6"/>
<circle cx="436.1" cy="418.2" r="1.0" fill="#00A087" fill-opacity="0.6"/>
<circle cx="429.4" cy="429.4" r="1.0" fill="#00A087" fill-opacity="0.6"/>
<circle cx="429.8" cy="430.4" r="1.0" fill="#00A087" fill-opacity="0.6"/>
<circle cx="436.1" cy="433.2" r="1.0" fill="#00A087" fill-opacity="0.6"/>
<circle cx="428.2" cy="438.8" r="1.0" fill="#00A087" fill-opacity="0.6"/>
<circle cx="424.8" cy="485.1" r="1.0" fill="#00A087" fill-opacity="0.6"/>
<circle cx="470.6" cy="214" r="1.0" fill="#3C5488" fill-opacity="0.6"/>
<circle cx="465.8" cy="285.8" r="1.0" fill="#3C5488" fill-opacity="0.6"/>
<circle cx="469" cy="286.6" r="1.0" fill="#3C5488" fill-opacity="0.6"/>
<circle cx="458" cy="322.8" r="1.0" fill="#3C5488" fill-opacity="0.6"/>
<circle cx="462.8" cy="327.6" r="1.0" fill="#3C5488" fill-opacity="0.6"/>
<circle cx="466.4" cy="326.6" r="1.0" fill="#3C5488" fill-opacity="0.6"/>
<circle cx="458" cy="330.8" r="1.0" fill="#3C5488" fill-opacity="0.6"/>
<circle cx="460.1" cy="334" r="1.0" fill="#3C5488" fill-opacity="0.6"/>
<circle cx="465.4" cy="331.8" r="1.0" fill="#3C5488" fill-opacity="0.6"/>
<circle cx="466.1" cy="335.6" r="1.0" fill="#3C5488" fill-opacity="0.6"/>
<circle cx="461.3" cy="354.3" r="1.0" fill="#3C5488" fill-opacity="0.6"/>
<circle cx="462.8" cy="356" r="1.0" fill="#3C5488" fill-opacity="0.6"/>
<circle cx="469.4" cy="357.2" r="1.0" fill="#3C5488" fill-opacity="0.6"/>
<circle cx="470" cy="365.4" r="1.0" fill="#3C5488" fill-opacity="0.6"/>
<circle cx="460.6" cy="367.8" r="1.0" fill="#3C5488" fill-opacity="0.6"/>
<circle cx="458.6" cy="370.8" r="1.0" fill="#3C5488" fill-opacity="0.6"/>
<circle cx="468.2" cy="372.6" r="1.0" fill="#3C5488" fill-opacity="0.6"/>
<circle cx="461.3" cy="373.2" r="1.0" fill="#3C5488" fill-opacity="0.6"/>
<circle cx="458.9" cy="370.6" r="1.0" fill="#3C5488" fill-opacity="0.6"/>
<circle cx="461.6" cy="377.8" r="1.0" fill="#3C5488" fill-opacity="0.6"/>
<circle cx="470.6" cy="378.2" r="1.0" fill="#3C5488" fill-opacity="0.6"/>
<circle cx="465.2" cy="381" r="1.0" fill="#3C5488" fill-opacity="0.6"/>
<circle cx="458.9" cy="383.8" r="1.0" fill="#3C5488" fill-opacity="0.6"/>
<circle cx="461.6" cy="387" r="1.0" fill="#3C5488" fill-opacity="0.6"/>
<circle cx="470" cy="397.3" r="1.0" fill="#3C5488" fill-opacity="0.6"/>
<circle cx="465.8" cy="401.4" r="1.0" fill="#3C5488" fill-opacity="0.6"/>
<circle cx="462.2" cy="407.4" r="1.0" fill="#3C5488" fill-opacity="0.6"/>
<circle cx="463" cy="414.6" r="1.0" fill="#3C5488" fill-opacity="0.6"/>
<circle cx="470.9" cy="413" r="1.0" fill="#3C5488" fill-opacity="0.6"/>
<circle cx="458.9" cy="434.6" r="1.0" fill="#3C5488" fill-opacity="0.6"/>
<circle cx="461" cy="436" r="1.0" fill="#3C5488" fill-opacity="0.6"/>
<circle cx="463.5" cy="471.9" r="1.0" fill="#3C5488" fill-opacity="0.6"/>
<line x1="363.4" y1="351" x2="363.4" y2="424.4" stroke="#E64B35" stroke-width="1.1"/>
<circle cx="363.4" cy="387.4" r="2.8" fill="#E64B35"/>
<line x1="397.2" y1="337" x2="397.2" y2="422" stroke="#4DBBD5" stroke-width="1.1"/>
<circle cx="397.2" cy="379" r="2.8" fill="#4DBBD5"/>
<line x1="430.9" y1="333.6" x2="430.9" y2="439.4" stroke="#00A087" stroke-width="1.1"/>
<circle cx="430.9" cy="386.6" r="2.8" fill="#00A087"/>
<line x1="464.6" y1="324" x2="464.6" y2="411.5" stroke="#3C5488" stroke-width="1.1"/>
<circle cx="464.6" cy="368" r="2.8" fill="#3C5488"/>
<path d="M365.4,265.2 V257.3 H464.6 V265.2" fill="none" stroke="#444" stroke-width="1"/>
<polygon points="414.20,248.70 414.85,250.41 416.67,250.50 415.25,251.64 415.73,253.40 414.20,252.40 412.67,253.40 413.15,251.64 411.73,250.50 413.55,250.41" fill="#000"/>
<rect x="343.6" y="200.3" width="140.59999999999997" height="297.9" fill="none" stroke="#666" stroke-width="1"/>
<line x1="343.1" y1="200.3" x2="484.7" y2="200.3" stroke="#1a1a1a" stroke-width="1.2"/>
<rect x="490.3" y="185.5" width="140.8" height="14.800000000000011" fill="#efefef" stroke="#666" stroke-width="1"/>
<text transform="translate(560.7,195.7) scale(1,1.1)" font-family="Liberation Sans, sans-serif" font-size="7.6" fill="#1a1a1a" text-anchor="middle" textLength="61.6" lengthAdjust="spacingAndGlyphs">NON-DOMINANT</text>
<rect x="490.3" y="200.3" width="140.8" height="297.9" fill="#fff"/>
<line x1="510" y1="326.4" x2="510" y2="351.6" stroke="#333" stroke-width="1"/>
<line x1="510" y1="421" x2="510" y2="454" stroke="#333" stroke-width="1"/>
<rect x="498.4" y="359.6" width="23.6" height="50.4" fill="#f6beb6" stroke="#222" stroke-width="1.1"/>
<line x1="498.4" y1="389.4" x2="522" y2="389.4" stroke="#111" stroke-width="2"/>
<line x1="543.6" y1="319" x2="543.6" y2="342" stroke="#333" stroke-width="1"/>
<line x1="543.6" y1="410" x2="543.6" y2="424" stroke="#333" stroke-width="1"/>
<rect x="532" y="349.4" width="23.6" height="55.0" fill="#bfe7f0" stroke="#222" stroke-width="1.1"/>
<line x1="532" y1="379" x2="555.6" y2="379" stroke="#111" stroke-width="2"/>
<line x1="577.6" y1="283" x2="577.6" y2="304.4" stroke="#333" stroke-width="1"/>
<line x1="577.6" y1="400" x2="577.6" y2="424.4" stroke="#333" stroke-width="1"/>
<rect x="565.4" y="313" width="24.2" height="71.2" fill="#a3ddd4" stroke="#222" stroke-width="1.1"/>
<line x1="565.4" y1="351.6" x2="589.6" y2="351.6" stroke="#111" stroke-width="2"/>
<line x1="611.6" y1="220" x2="611.6" y2="316" stroke="#333" stroke-width="1"/>
<line x1="611.6" y1="411" x2="611.6" y2="450.4" stroke="#333" stroke-width="1"/>
<rect x="599.4" y="327" width="24.2" height="76.4" fill="#b9c1d4" stroke="#222" stroke-width="1.1"/>
<line x1="599.4" y1="365" x2="623.6" y2="365" stroke="#111" stroke-width="2"/>
<circle cx="514.4" cy="326.2" r="1.0" fill="#E64B35" fill-opacity="0.6"/>
<circle cx="505.6" cy="337" r="1.0" fill="#E64B35" fill-opacity="0.6"/>
<circle cx="509.2" cy="338.2" r="1.0" fill="#E64B35" fill-opacity="0.6"/>
<circle cx="511.6" cy="339" r="1.0" fill="#E64B35" fill-opacity="0.6"/>
<circle cx="513.2" cy="353" r="1.0" fill="#E64B35" fill-opacity="0.6"/>
<circle cx="512" cy="357.7" r="1.0" fill="#E64B35" fill-opacity="0.6"/>
<circle cx="505.2" cy="360.6" r="1.0" fill="#E64B35" fill-opacity="0.6"/>
<circle cx="513.6" cy="364.9" r="1.0" fill="#E64B35" fill-opacity="0.6"/>
<circle cx="513.6" cy="365.6" r="1.0" fill="#E64B35" fill-opacity="0.6"/>
<circle cx="512" cy="375.8" r="1.0" fill="#E64B35" fill-opacity="0.6"/>
<circle cx="514.8" cy="375.6" r="1.0" fill="#E64B35" fill-opacity="0.6"/>
<circle cx="505.6" cy="393.2" r="1.0" fill="#E64B35" fill-opacity="0.6"/>
<circle cx="504.6" cy="395.6" r="1.0" fill="#E64B35" fill-opacity="0.6"/>
<circle cx="503.2" cy="397.6" r="1.0" fill="#E64B35" fill-opacity="0.6"/>
<circle cx="510.6" cy="398.8" r="1.0" fill="#E64B35" fill-opacity="0.6"/>
<circle cx="512.8" cy="410" r="1.0" fill="#E64B35" fill-opacity="0.6"/>
<circle cx="510" cy="409.6" r="1.0" fill="#E64B35" fill-opacity="0.6"/>
<circle cx="504" cy="417.8" r="1.0" fill="#E64B35" fill-opacity="0.6"/>
<circle cx="503.2" cy="418.7" r="1.0" fill="#E64B35" fill-opacity="0.6"/>
<circle cx="513.6" cy="435" r="1.0" fill="#E64B35" fill-opacity="0.6"/>
<circle cx="510" cy="439.8" r="1.0" fill="#E64B35" fill-opacity="0.6"/>
<circle cx="505.6" cy="454.2" r="1.0" fill="#E64B35" fill-opacity="0.6"/>
<circle cx="542.4" cy="318.6" r="1.0" fill="#4DBBD5" fill-opacity="0.6"/>
<circle cx="541.8" cy="332.2" r="1.0" fill="#4DBBD5" fill-opacity="0.6"/>
<circle cx="550.4" cy="338.5" r="1.0" fill="#4DBBD5" fill-opacity="0.6"/>
<circle cx="543.9" cy="340.6" r="1.0" fill="#4DBBD5" fill-opacity="0.6"/>
<circle cx="539.6" cy="349" r="1.0" fill="#4DBBD5" fill-opacity="0.6"/>
<circle cx="539.6" cy="351.7" r="1.0" fill="#4DBBD5" fill-opacity="0.6"/>
<circle cx="544.8" cy="355.3" r="1.0" fill="#4DBBD5" fill-opacity="0.6"/>
<circle cx="540" cy="364.9" r="1.0" fill="#4DBBD5" fill-opacity="0.6"/>
<circle cx="540.3" cy="365.6" r="1.0" fill="#4DBBD5" fill-opacity="0.6"/>
<circle cx="537" cy="374" r="1.0" fill="#4DBBD5" fill-opacity="0.6"/>
<circle cx="543" cy="382.4" r="1.0" fill="#4DBBD5" fill-opacity="0.6"/>
<circle cx="539.1" cy="387.5" r="1.0" fill="#4DBBD5" fill-opacity="0.6"/>
<circle cx="547.5" cy="389" r="1.0" fill="#4DBBD5" fill-opacity="0.6"/>
<circle cx="542" cy="403.1" r="1.0" fill="#4DBBD5" fill-opacity="0.6"/>
<circle cx="543.9" cy="403.6" r="1.0" fill="#4DBBD5" fill-opacity="0.6"/>
<circle cx="543" cy="409.4" r="1.0" fill="#4DBBD5" fill-opacity="0.6"/>
<circle cx="546.6" cy="420" r="1.0" fill="#4DBBD5" fill-opacity="0.6"/>
<circle cx="543.9" cy="420.4" r="1.0" fill="#4DBBD5" fill-opacity="0.6"/>
<circle cx="542.4" cy="424.4" r="1.0" fill="#4DBBD5" fill-opacity="0.6"/>
<circle cx="576.4" cy="282.8" r="1.0" fill="#00A087" fill-opacity="0.6"/>
<circle cx="574.8" cy="286.6" r="1.0" fill="#00A087" fill-opacity="0.6"/>
<circle cx="580" cy="286.6" r="1.0" fill="#00A087" fill-opacity="0.6"/>
<circle cx="571.2" cy="292.6" r="1.0" fill="#00A087" fill-opacity="0.6"/>
<circle cx="574.8" cy="307" r="1.0" fill="#00A087" fill-opacity="0.6"/>
<circle cx="578.4" cy="315.2" r="1.0" fill="#00A087" fill-opacity="0.6"/>
<circle cx="578" cy="315.6" r="1.0" fill="#00A087" fill-opacity="0.6"/>
<circle cx="574" cy="340.8" r="1.0" fill="#00A087" fill-opacity="0.6"/>
<circle cx="571.4" cy="346.4" r="1.0" fill="#00A087" fill-opacity="0.6"/>
<circle cx="571.4" cy="352.2" r="1.0" fill="#00A087" fill-opacity="0.6"/>
<circle cx="584.3" cy="370.8" r="1.0" fill="#00A087" fill-opacity="0.6"/>
<circle cx="574" cy="373.5" r="1.0" fill="#00A087" fill-opacity="0.6"/>
<circle cx="584.3" cy="371" r="1.0" fill="#00A087" fill-opacity="0.6"/>
<circle cx="574.4" cy="375.8" r="1.0" fill="#00A087" fill-opacity="0.6"/>
<circle cx="572.8" cy="381.8" r="1.0" fill="#00A087" fill-opacity="0.6"/>
<circle cx="578" cy="393.4" r="1.0" fill="#00A087" fill-opacity="0.6"/>
<circle cx="581.6" cy="407.4" r="1.0" fill="#00A087" fill-opacity="0.6"/>
<circle cx="578.4" cy="415.8" r="1.0" fill="#00A087" fill-opacity="0.6"/>
<circle cx="581.2" cy="421.8" r="1.0" fill="#00A087" fill-opacity="0.6"/>
<circle cx="582" cy="424.6" r="1.0" fill="#00A087" fill-opacity="0.6"/>
<circle cx="616.4" cy="220" r="1.0" fill="#3C5488" fill-opacity="0.6"/>
<circle cx="611" cy="293" r="1.0" fill="#3C5488" fill-opacity="0.6"/>
<circle cx="617.9" cy="293.6" r="1.0" fill="#3C5488" fill-opacity="0.6"/>
<circle cx="614.8" cy="299.3" r="1.0" fill="#3C5488" fill-opacity="0.6"/>
<circle cx="607.6" cy="307.7" r="1.0" fill="#3C5488" fill-opacity="0.6"/>
<circle cx="605" cy="311.8" r="1.0" fill="#3C5488" fill-opacity="0.6"/>
<circle cx="607.6" cy="315.8" r="1.0" fill="#3C5488" fill-opacity="0.6"/>
<circle cx="608" cy="315.6" r="1.0" fill="#3C5488" fill-opacity="0.6"/>
<circle cx="607.1" cy="322.4" r="1.0" fill="#3C5488" fill-opacity="0.6"/>
<circle cx="610.7" cy="326.8" r="1.0" fill="#3C5488" fill-opacity="0.6"/>
<circle cx="617.2" cy="327.2" r="1.0" fill="#3C5488" fill-opacity="0.6"/>
<circle cx="608.3" cy="332.4" r="1.0" fill="#3C5488" fill-opacity="0.6"/>
<circle cx="612.2" cy="331.2" r="1.0" fill="#3C5488" fill-opacity="0.6"/>
<circle cx="609.2" cy="342.3" r="1.0" fill="#3C5488" fill-opacity="0.6"/>
<circle cx="610.7" cy="348" r="1.0" fill="#3C5488" fill-opacity="0.6"/>
<circle cx="608.6" cy="356.7" r="1.0" fill="#3C5488" fill-opacity="0.6"/>
<circle cx="616.7" cy="362.7" r="1.0" fill="#3C5488" fill-opacity="0.6"/>
<circle cx="608.3" cy="368" r="1.0" fill="#3C5488" fill-opacity="0.6"/>
<circle cx="615.8" cy="367.5" r="1.0" fill="#3C5488" fill-opacity="0.6"/>
<circle cx="614.8" cy="371.1" r="1.0" fill="#3C5488" fill-opacity="0.6"/>
<circle cx="617" cy="370.8" r="1.0" fill="#3C5488" fill-opacity="0.6"/>
<circle cx="616.7" cy="371" r="1.0" fill="#3C5488" fill-opacity="0.6"/>
<circle cx="607.1" cy="377" r="1.0" fill="#3C5488" fill-opacity="0.6"/>
<circle cx="606.8" cy="380.6" r="1.0" fill="#3C5488" fill-opacity="0.6"/>
<circle cx="607.6" cy="391" r="1.0" fill="#3C5488" fill-opacity="0.6"/>
<circle cx="617.6" cy="394.6" r="1.0" fill="#3C5488" fill-opacity="0.6"/>
<circle cx="610.4" cy="401" r="1.0" fill="#3C5488" fill-opacity="0.6"/>
<circle cx="614.8" cy="406.9" r="1.0" fill="#3C5488" fill-opacity="0.6"/>
<circle cx="605.6" cy="410.5" r="1.0" fill="#3C5488" fill-opacity="0.6"/>
<circle cx="605" cy="416.2" r="1.0" fill="#3C5488" fill-opacity="0.6"/>
<circle cx="606.8" cy="416.2" r="1.0" fill="#3C5488" fill-opacity="0.6"/>
<circle cx="609.5" cy="418" r="1.0" fill="#3C5488" fill-opacity="0.6"/>
<circle cx="606.4" cy="425.4" r="1.0" fill="#3C5488" fill-opacity="0.6"/>
<circle cx="606" cy="435.4" r="1.0" fill="#3C5488" fill-opacity="0.6"/>
<circle cx="615.8" cy="434.2" r="1.0" fill="#3C5488" fill-opacity="0.6"/>
<circle cx="606.4" cy="450.6" r="1.0" fill="#3C5488" fill-opacity="0.6"/>
<circle cx="616.4" cy="447.8" r="1.0" fill="#3C5488" fill-opacity="0.6"/>
<line x1="510" y1="351.6" x2="510" y2="421" stroke="#E64B35" stroke-width="1.1"/>
<circle cx="510" cy="386" r="2.8" fill="#E64B35"/>
<line x1="543.6" y1="342" x2="543.6" y2="410" stroke="#4DBBD5" stroke-width="1.1"/>
<circle cx="543.6" cy="376" r="2.8" fill="#4DBBD5"/>
<line x1="577.6" y1="304.4" x2="577.6" y2="400" stroke="#00A087" stroke-width="1.1"/>
<circle cx="577.6" cy="352.4" r="2.8" fill="#00A087"/>
<line x1="611.6" y1="316" x2="611.6" y2="411" stroke="#3C5488" stroke-width="1.1"/>
<circle cx="611.6" cy="364" r="2.8" fill="#3C5488"/>
<path d="M512.4,265.2 V257.2 H611.6 V265.2" fill="none" stroke="#444" stroke-width="1"/>
<polygon points="561.40,248.70 562.05,250.41 563.87,250.50 562.45,251.64 562.93,253.40 561.40,252.40 559.87,253.40 560.35,251.64 558.93,250.50 560.75,250.41" fill="#000"/>
<rect x="490.3" y="200.3" width="140.8" height="297.9" fill="none" stroke="#666" stroke-width="1"/>
<line x1="489.8" y1="200.3" x2="631.6" y2="200.3" stroke="#1a1a1a" stroke-width="1.2"/>
<text transform="translate(641.6,231.0) scale(1,1.05)" font-family="Liberation Sans, sans-serif" font-size="9.6" fill="#111">Group</text>
<line x1="649.2" y1="238.2" x2="649.2" y2="249.6" stroke="#E64B35" stroke-width="1"/>
<rect x="643.9" y="240.4" width="10.6" height="7.2" fill="#f6beb6" stroke="#222" stroke-width="1.1"/>
<line x1="643.9" y1="244.0" x2="654.5" y2="244.0" stroke="#111" stroke-width="1.3"/>
<line x1="649.2" y1="238.2" x2="649.2" y2="249.6" stroke="#E64B35" stroke-width="1"/>
<circle cx="649.2" cy="244.0" r="2.8" fill="#E64B35"/>
<text transform="translate(660.1,246.9) scale(1,1.14)" font-family="Liberation Sans, sans-serif" font-size="7.5" fill="#111">8-10y</text>
<line x1="649.2" y1="252.3" x2="649.2" y2="263.7" stroke="#4DBBD5" stroke-width="1"/>
<rect x="643.9" y="254.5" width="10.6" height="7.2" fill="#bfe7f0" stroke="#222" stroke-width="1.1"/>
<line x1="643.9" y1="258.1" x2="654.5" y2="258.1" stroke="#111" stroke-width="1.3"/>
<line x1="649.2" y1="252.3" x2="649.2" y2="263.7" stroke="#4DBBD5" stroke-width="1"/>
<circle cx="649.2" cy="258.1" r="2.8" fill="#4DBBD5"/>
<text transform="translate(660.1,261.0) scale(1,1.14)" font-family="Liberation Sans, sans-serif" font-size="7.5" fill="#111">12-14y</text>
<line x1="649.2" y1="266.5" x2="649.2" y2="277.9" stroke="#00A087" stroke-width="1"/>
<rect x="643.9" y="268.7" width="10.6" height="7.2" fill="#a3ddd4" stroke="#222" stroke-width="1.1"/>
<line x1="643.9" y1="272.3" x2="654.5" y2="272.3" stroke="#111" stroke-width="1.3"/>
<line x1="649.2" y1="266.5" x2="649.2" y2="277.9" stroke="#00A087" stroke-width="1"/>
<circle cx="649.2" cy="272.3" r="2.8" fill="#00A087"/>
<text transform="translate(660.1,275.2) scale(1,1.14)" font-family="Liberation Sans, sans-serif" font-size="7.5" fill="#111">16-18y</text>
<line x1="649.2" y1="280.6" x2="649.2" y2="292.0" stroke="#3C5488" stroke-width="1"/>
<rect x="643.9" y="282.8" width="10.6" height="7.2" fill="#b9c1d4" stroke="#222" stroke-width="1.1"/>
<line x1="643.9" y1="286.4" x2="654.5" y2="286.4" stroke="#111" stroke-width="1.3"/>
<line x1="649.2" y1="280.6" x2="649.2" y2="292.0" stroke="#3C5488" stroke-width="1"/>
<circle cx="649.2" cy="286.4" r="2.8" fill="#3C5488"/>
<text transform="translate(660.1,289.3) scale(1,1.14)" font-family="Liberation Sans, sans-serif" font-size="7.5" fill="#111">20-30y</text>
</svg></body></html>
